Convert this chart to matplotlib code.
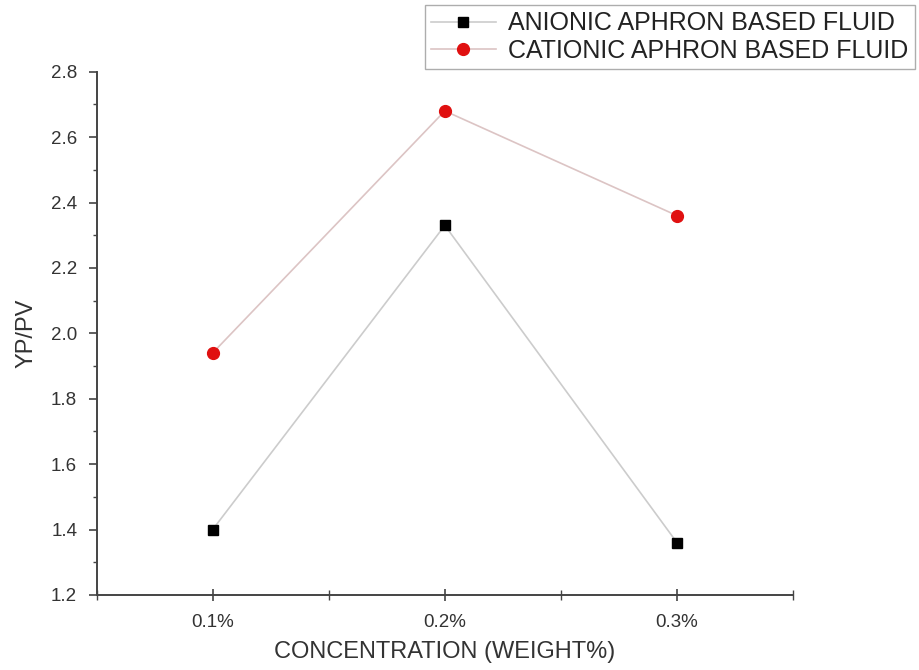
import matplotlib
matplotlib.use("Agg")
import matplotlib.pyplot as plt
from matplotlib.ticker import MultipleLocator, FixedLocator

# values
categories = ["0.1%", "0.2%", "0.3%"]
anionic = [1.40, 2.33, 1.36]
cationic = [1.94, 2.68, 2.36]

plt.rcParams["font.family"] = ["Liberation Sans", "DejaVu Sans"]

fig = plt.figure(figsize=(9.2, 6.7), dpi=100)
ax = fig.add_axes([0.105, 0.112, 0.757, 0.781])

x = list(range(1, len(categories) + 1))

ax.plot(x, anionic, color="#cccccc", lw=1.2, marker="s", ms=7.5,
        mfc="black", mec="black", label="ANIONIC APHRON BASED FLUID")
ax.plot(x, cationic, color="#dcc4c4", lw=1.2, marker="o", ms=8.5,
        mfc="#e01010", mec="#e01010", label="CATIONIC APHRON BASED FLUID")

ax.set_xlim(0.5, 3.5)
ax.set_ylim(1.2, 2.8)
ax.set_xticks(x)
ax.set_xticklabels(categories)
ax.xaxis.set_minor_locator(FixedLocator([0.5, 1.5, 2.5, 3.5]))
ax.yaxis.set_major_locator(MultipleLocator(0.2))
ax.yaxis.set_minor_locator(MultipleLocator(0.1))

for side in ("top", "right"):
    ax.spines[side].set_visible(False)
for side in ("left", "bottom"):
    ax.spines[side].set_color("#444444")
    ax.spines[side].set_linewidth(1.4)

ax.tick_params(which="major", direction="out", length=6, width=1.2,
               color="#444444", labelsize=13.5, labelcolor="#333333", pad=8)
ax.tick_params(which="minor", direction="out", length=3, width=1.0, color="#444444")
ax.tick_params(axis="x", which="both", direction="inout", length=8, pad=10)
ax.tick_params(axis="x", which="minor", length=7)

ax.set_xlabel("CONCENTRATION (WEIGHT%)", fontsize=17, color="#333333", labelpad=7)
ax.set_ylabel("YP/PV", fontsize=17, color="#333333", labelpad=10)

leg = fig.legend(loc="upper right", bbox_to_anchor=(1.0, 1.0), fontsize=18,
                 frameon=True, fancybox=False, edgecolor="#999999",
                 borderpad=0.25, handlelength=2.6, handletextpad=0.5,
                 labelspacing=0.15, borderaxespad=0.2)
leg.get_frame().set_linewidth(1.0)
for t in leg.get_texts():
    t.set_color("#222222")

fig.savefig("out.png", dpi=100, facecolor="white")
